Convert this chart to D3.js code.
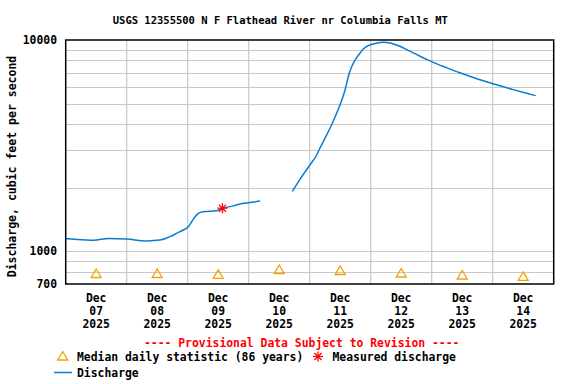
<!DOCTYPE html>
<html><head><meta charset="utf-8">
<script src="https://cdn.jsdelivr.net/npm/d3@7/dist/d3.min.js"></script>
<style>body{margin:0;background:#fff}svg{display:block}text{font-family:"DejaVu Sans Mono",monospace;font-weight:bold}</style>
</head><body>
<svg id="c" width="576" height="384"></svg>
<script>
const title = "USGS 12355500 N F Flathead River nr Columbia Falls MT";
const yLabel = "Discharge, cubic feet per second";
const provisional = "---- Provisional Data Subject to Revision ----";
const dayLabels = ["2025-12-07","2025-12-08","2025-12-09","2025-12-10","2025-12-11","2025-12-12","2025-12-13","2025-12-14"];
const yTickLabels = [700, 1000, 10000];
const yGridValues = [800, 900, 1000, 2000, 3000, 4000, 5000, 6000, 7000, 8000, 9000];

const dischargeTimes = [
 "2025-12-07T00:00","2025-12-07T06:00","2025-12-07T11:00","2025-12-07T17:00",
 "2025-12-08T00:00","2025-12-08T08:00","2025-12-08T13:00","2025-12-08T17:00","2025-12-08T19:40","2025-12-08T22:15",
 "2025-12-09T00:15","2025-12-09T01:35","2025-12-09T02:55","2025-12-09T04:10","2025-12-09T06:05","2025-12-09T11:25","2025-12-09T13:30","2025-12-09T18:00","2025-12-09T20:30",
 "2025-12-10T00:30","2025-12-10T04:30","2025-12-10T10:00",
 "2025-12-10T17:10","2025-12-10T20:10",
 "2025-12-11T00:05","2025-12-11T02:45","2025-12-11T04:00","2025-12-11T06:00","2025-12-11T08:00","2025-12-11T09:55","2025-12-11T11:55",
 "2025-12-11T13:55","2025-12-11T15:10","2025-12-11T16:30","2025-12-11T17:50","2025-12-11T19:45","2025-12-11T21:05","2025-12-11T23:00",
 "2025-12-12T01:00","2025-12-12T03:40","2025-12-12T05:00","2025-12-12T06:15","2025-12-12T09:00","2025-12-12T11:30","2025-12-12T14:00",
 "2025-12-12T16:45","2025-12-12T19:25","2025-12-12T22:00",
 "2025-12-13T00:35","2025-12-13T05:55","2025-12-13T11:05","2025-12-13T16:20","2025-12-13T21:35",
 "2025-12-14T02:50","2025-12-14T08:05","2025-12-14T13:20","2025-12-14T16:55"
];
const dischargeValues = [
 1150, 1135, 1128, 1150,
 1142, 1120, 1130, 1173, 1216, 1261,
 1307, 1380, 1458, 1512, 1539, 1556, 1595, 1640, 1675,
 1700, 1730, null,
 1922, 2191,
 2561, 2856, 3072, 3426, 3820, 4306, 4923,
 5799, 6702, 7474, 8041, 8650, 9066, 9398,
 9573, 9730, 9752, 9720, 9573, 9337, 9036,
 8697, 8381, 8094,
 7834, 7386, 6994, 6651, 6347,
 6070, 5824, 5600, 5455
];
const medianDays = ["2025-12-07T12:00","2025-12-08T12:00","2025-12-09T12:00","2025-12-10T12:00","2025-12-11T12:00","2025-12-12T12:00","2025-12-13T12:00","2025-12-14T12:00"];
const medianValues = [785, 785, 778, 820, 811, 789, 772, 760];
const measuredTimes = ["2025-12-09T13:40"];
const measuredValues = [1600];

const parse = d3.utcParse("%Y-%m-%dT%H:%M");
const parseDay = d3.utcParse("%Y-%m-%d");
const svg = d3.select("#c");
const L = 65.7, R = 553.7, T = 40, B = 284;
const x = d3.scaleUtc().domain([parseDay("2025-12-07"), parseDay("2025-12-15")]).range([L, R]);
const y = d3.scaleLog().domain([700, 10000]).range([B, T]);
const blue = "#0a7ccf", orange = "#f5a000", red = "#ff0000", grid = "#c8c8c8";

// grid
svg.append("g").selectAll("line").data(yGridValues).join("line")
  .attr("x1", L).attr("x2", R).attr("y1", d => Math.round(y(d)) + 0.5).attr("y2", d => Math.round(y(d)) + 0.5)
  .attr("stroke", grid).attr("stroke-width", 1.2);
const gridDays = d3.utcDay.range(parseDay("2025-12-08"), parseDay("2025-12-15"));
svg.append("g").selectAll("line").data(gridDays).join("line")
  .attr("x1", d => x(d)).attr("x2", d => x(d)).attr("y1", T).attr("y2", B)
  .attr("stroke", grid).attr("stroke-width", 1.2);

// median triangles
const triPath = (cx, cy) => `M${cx},${cy-4.5}L${cx+5},${cy+4}L${cx-5},${cy+4}Z`;
svg.append("g").selectAll("path").data(medianDays.map((d, i) => [parse(d), medianValues[i]])).join("path")
  .attr("d", d => triPath(x(d[0]), y(d[1])))
  .attr("fill", "none").attr("stroke", orange).attr("stroke-width", 1.3);

// discharge line
const pts = dischargeTimes.map((d, i) => [parse(d), dischargeValues[i]]);
const line = d3.line().defined(d => d[1] != null).x(d => x(d[0])).y(d => y(d[1])).curve(d3.curveMonotoneX);
svg.append("path").datum(pts).attr("d", line).attr("fill", "none").attr("stroke", blue).attr("stroke-width", 1.5);

// measured asterisk
function asterisk(g, cx, cy, r) {
  [0, 45, 90, 135].forEach(a => {
    const rad = a * Math.PI / 180;
    g.append("line").attr("x1", cx - r * Math.cos(rad)).attr("y1", cy - r * Math.sin(rad))
      .attr("x2", cx + r * Math.cos(rad)).attr("y2", cy + r * Math.sin(rad))
      .attr("stroke", red).attr("stroke-width", 1.3);
  });
}
measuredTimes.forEach((t, i) => asterisk(svg.append("g"), x(parse(t)), y(measuredValues[i]), 5));

// frame
svg.append("rect").attr("x", L).attr("y", T).attr("width", R - L).attr("height", B - T)
  .attr("fill", "none").attr("stroke", "#000").attr("stroke-width", 1.5);

// y ticks
svg.append("g").selectAll("text").data(yTickLabels).join("text")
  .attr("x", 57).attr("y", d => y(d) + 4).attr("text-anchor", "end")
  .attr("font-size", "11.4px").text(d => d);

// x labels
const fmtMon = d3.utcFormat("%b"), fmtDay = d3.utcFormat("%d"), fmtYr = d3.utcFormat("%Y");
const xl = svg.append("g").selectAll("text").data(dayLabels.map(d => d3.utcHour.offset(parseDay(d), 12))).join("text")
  .attr("text-anchor", "middle").attr("font-size", "11.4px");
xl.append("tspan").attr("x", d => x(d)).attr("y", 302.3).text(d => fmtMon(d));
xl.append("tspan").attr("x", d => x(d)).attr("y", 315).text(d => fmtDay(d));
xl.append("tspan").attr("x", d => x(d)).attr("y", 327.7).text(d => fmtYr(d));

// title
svg.append("text").attr("x", 280.3).attr("y", 24.3).attr("text-anchor", "middle").attr("font-size", "10.5px").text(title);
// y label
svg.append("text").attr("transform", "translate(15.5,166.5) rotate(-90)").attr("text-anchor", "middle")
  .attr("font-size", "11.5px").text(yLabel);
// provisional
svg.append("text").attr("x", 301.7).attr("y", 346.7).attr("text-anchor", "middle").attr("font-size", "11.4px")
  .attr("fill", red).text(provisional);

// legend
svg.append("path").attr("d", triPath(62.7, 356)).attr("fill", "none").attr("stroke", orange).attr("stroke-width", 1.3);
svg.append("text").attr("x", 77).attr("y", 361).attr("font-size", "11.4px").text("Median daily statistic (86 years)");
asterisk(svg.append("g"), 318, 356.5, 5);
svg.append("text").attr("x", 332.5).attr("y", 361).attr("font-size", "11.4px").text("Measured discharge");
svg.append("line").attr("x1", 54).attr("x2", 72).attr("y1", 372.5).attr("y2", 372.5).attr("stroke", blue).attr("stroke-width", 1.5);
svg.append("text").attr("x", 77).attr("y", 377).attr("font-size", "11.4px").text("Discharge");
</script>
</body></html>
